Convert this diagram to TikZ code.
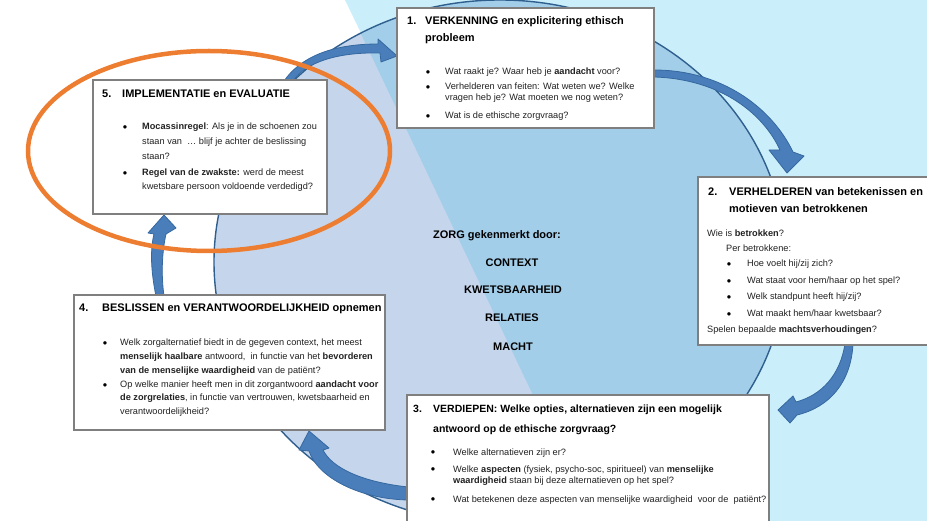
\documentclass[tikz,border=0pt]{standalone}
\usepackage{fontspec}
\setmainfont{Liberation Sans}
\definecolor{cyanbg}{HTML}{CBEFFA}
\definecolor{lav}{HTML}{C5D6EC}
\definecolor{midblue}{HTML}{A3CEE9}
\definecolor{ringc}{HTML}{2F5F8F}
\definecolor{arrfill}{HTML}{4A7EBB}
\definecolor{arrline}{HTML}{35689F}
\definecolor{orng}{HTML}{ED7D31}
\definecolor{boxline}{HTML}{7F7F7F}
\definecolor{txtc}{HTML}{222222}
\begin{document}
\begin{tikzpicture}[x=1pt,y=-1pt,
 box/.style={draw=boxline,line width=1.2pt,fill=white,inner sep=0pt},
 ttl/.style={anchor=base west,inner sep=0pt,font=\fontsize{11}{13}\selectfont\bfseries,text=black},
 ttlb/.style={anchor=base west,inner sep=0pt,font=\fontsize{10.5}{12}\selectfont\bfseries,text=black},
 bod/.style={anchor=base west,inner sep=0pt,font=\fontsize{9.2}{11}\selectfont,text=txtc},
 bul/.style={anchor=base,inner sep=0pt,font=\fontsize{12.5}{13}\selectfont,text=black,yshift=-1.6pt},
 ctr/.style={anchor=base,inner sep=0pt,font=\fontsize{11}{13}\selectfont\bfseries,text=black},
 barrow/.style={fill=arrfill,draw=arrline,line width=0.8pt,line join=round}]
\useasboundingbox (0,0) rectangle (927,521);
% background
\fill[white] (0,0) rectangle (927,521);
\fill[cyanbg] (345,0) -- (927,0) -- (927,521) -- (598,521) -- cycle;
% big circle
\begin{scope}
 \clip (500,262) ellipse [x radius=286pt, y radius=262pt];
 \fill[lav] (200,-10) rectangle (800,540);
 \fill[midblue] (340,-10) -- (800,-10) -- (800,540) -- (602,540) -- cycle;
\end{scope}
\draw[ringc, line width=1.4pt] (500,262) ellipse [x radius=286pt, y radius=262pt];
% curved block arrows
\path[barrow] (284,81) .. controls (300,58) and (330,44) .. (378,44) -- (378,39) -- (397,56) -- (381,62) -- (380,53) .. controls (338,52) and (306,62) .. (293,81) -- cycle;
\path[barrow] (654,70) .. controls (722,70) and (772,108) .. (793,152) -- (804,156) -- (787,173) -- (769,150) -- (780,150) .. controls (764,115) and (722,79) .. (654,77) -- cycle;
\path[barrow] (845,344) .. controls (840,375) and (822,395) .. (796,402) -- (793,396) -- (778,410) -- (790,423) -- (797,415) .. controls (830,407) and (851,382) .. (853,344) -- cycle;
\path[barrow] (408,487) .. controls (362,482) and (332,468) .. (323,450) -- (329,448) -- (309,431) -- (299,450) -- (309,451) .. controls (318,478) and (360,499) .. (408,500) -- cycle;
\path[barrow] (156,296) .. controls (151,272) and (150,250) .. (154,234) -- (148,233) -- (164,215) -- (176,228) -- (166,234) .. controls (162,252) and (161,275) .. (164,296) -- cycle;
% boxes
\node[box, minimum width=257pt, minimum height=120pt] (box1) at (525.5,68) {};
\node[box, minimum width=234pt, minimum height=134pt] (box5) at (210,147) {};
\node[box, minimum width=237pt, minimum height=168pt] (box2) at (816.5,261) {};
\node[box, minimum width=311pt, minimum height=135pt] (box4) at (229.5,362.5) {};
\node[box, minimum width=362pt, minimum height=150pt] (box3) at (588,470) {};
% box 1
\node[ttl] (t1n) at (407,25) {1.};
\node[ttl] (t1a) at (425,25) {VERKENNING en explicitering ethisch};
\node[ttl] (t1b) at (425,42) {probleem};
\node[bul] (u1a) at (428,74.5) {•};
\node[bul] (u1b) at (428,90) {•};
\node[bul] (u1c) at (428,118.5) {•};
\node[bod] (l1a) at (445,74.5) {Wat raakt je? Waar heb je \textbf{aandacht} voor?};
\node[bod] (l1b) at (445,90) {Verhelderen van feiten: Wat weten we? Welke};
\node[bod] (l1c) at (445,101) {vragen heb je? Wat moeten we nog weten?};
\node[bod] (l1d) at (445,118.5) {Wat is de ethische zorgvraag?};
% box 5
\node[ttl] (t5n) at (102,97.5) {5.};
\node[ttl] (t5a) at (122,97.5) {IMPLEMENTATIE en EVALUATIE};
\node[bul] (u5a) at (125,130) {•};
\node[bul] (u5b) at (125,175.5) {•};
\node[bod] (l5a) at (142,130) {\textbf{Mocassinregel}: Als je in de schoenen zou};
\node[bod] (l5b) at (142,144.5) {staan van \ … blijf je achter de beslissing};
\node[bod] (l5c) at (142,160) {staan?};
\node[bod] (l5d) at (142,175.5) {\textbf{Regel van de zwakste:} werd de meest};
\node[bod] (l5e) at (142,190) {kwetsbare persoon voldoende verdedigd?};
% box 2
\node[ttl] (t2n) at (708,196) {2.};
\node[ttl] (t2a) at (729,196) {VERHELDEREN van betekenissen en};
\node[ttl] (t2b) at (729,213) {motieven van betrokkenen};
\node[bod] (l2a) at (707,237) {Wie is \textbf{betrokken}?};
\node[bod] (l2b) at (726,251.5) {Per betrokkene:};
\node[bul] (u2a) at (729,267) {•};
\node[bul] (u2b) at (729,283.5) {•};
\node[bul] (u2c) at (729,300) {•};
\node[bul] (u2d) at (729,316.5) {•};
\node[bod] (l2c) at (747,267) {Hoe voelt hij/zij zich?};
\node[bod] (l2d) at (747,283.5) {Wat staat voor hem/haar op het spel?};
\node[bod] (l2e) at (747,300) {Welk standpunt heeft hij/zij?};
\node[bod] (l2f) at (747,316.5) {Wat maakt hem/haar kwetsbaar?};
\node[bod] (l2g) at (707,333) {Spelen bepaalde \textbf{machtsverhoudingen}?};
% box 4
\node[ttl] (t4n) at (79,312) {4.};
\node[ttl] (t4a) at (102,312) {BESLISSEN en VERANTWOORDELIJKHEID opnemen};
\node[bul] (u4a) at (105,345.5) {•};
\node[bul] (u4b) at (105,388) {•};
\node[bod] (l4a) at (120,345.5) {Welk zorgalternatief biedt in de gegeven context, het meest};
\node[bod] (l4b) at (120,360) {\textbf{menselijk haalbare} antwoord, \ in functie van het \textbf{bevorderen}};
\node[bod] (l4c) at (120,373.5) {\textbf{van de menselijke waardigheid} van de patiënt?};
\node[bod] (l4d) at (120,388) {Op welke manier heeft men in dit zorgantwoord \textbf{aandacht voor}};
\node[bod] (l4e) at (120,401) {\textbf{de zorgrelaties}, in functie van vertrouwen, kwetsbaarheid en};
\node[bod] (l4f) at (120,415) {verantwoordelijkheid?};
% box 3
\node[ttlb] (t3n) at (413,412.5) {3.};
\node[ttlb] (t3a) at (433,412.5) {VERDIEPEN: Welke opties, alternatieven zijn een mogelijk};
\node[ttlb] (t3b) at (433,432.5) {antwoord op de ethische zorgvraag?};
\node[bul] (u3a) at (433,455) {•};
\node[bul] (u3b) at (433,472) {•};
\node[bul] (u3c) at (433,502) {•};
\node[bod] (l3a) at (453,455) {Welke alternatieven zijn er?};
\node[bod] (l3b) at (453,472) {Welke \textbf{aspecten} (fysiek, psycho-soc, spiritueel) van \textbf{menselijke}};
\node[bod] (l3c) at (453,483.5) {\textbf{waardigheid} staan bij deze alternatieven op het spel?};
\node[bod] (l3d) at (453,502) {Wat betekenen deze aspecten van menselijke waardigheid \ voor de \ patiënt?};
% centre text
\node[ctr] (c0) at (497,239) {ZORG gekenmerkt door:};
\node[ctr] (c1) at (512,267) {CONTEXT};
\node[ctr] (c2) at (513,294) {KWETSBAARHEID};
\node[ctr] (c3) at (512,322) {RELATIES};
\node[ctr] (c4) at (513,351) {MACHT};
% orange highlight
\draw[orng, line width=4.5pt] (209,151) ellipse [x radius=181pt, y radius=100pt];
\end{tikzpicture}
\end{document}
